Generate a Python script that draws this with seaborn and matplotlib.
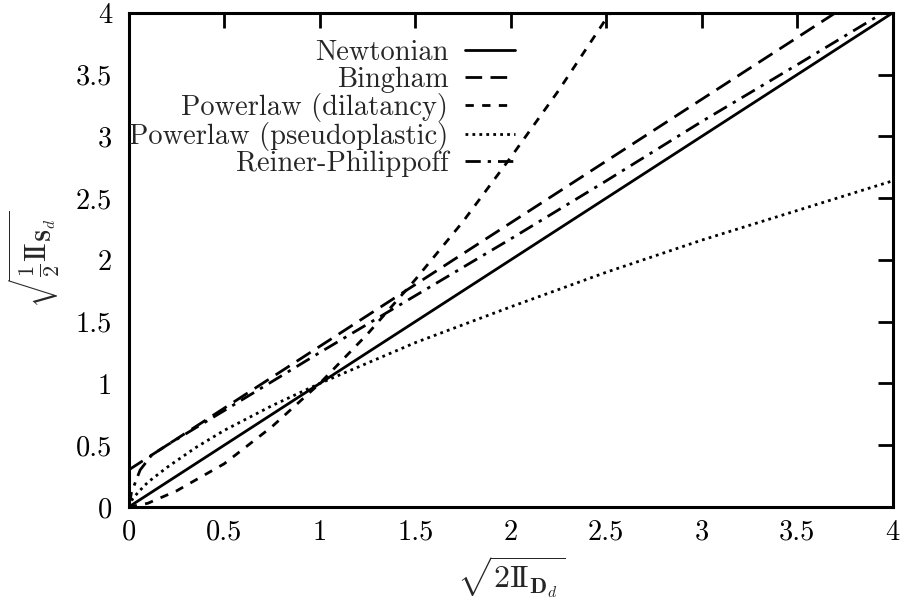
import matplotlib
matplotlib.use("Agg")
import matplotlib.pyplot as plt
import seaborn as sns

# Curvas (eje x: sqrt(2 II_Dd), eje y: sqrt(1/2 II_Sd))
newt_x = [0.0, 4.0]
newt_y = [0.0, 4.0]

bing_x = [0.0, 3.7]
bing_y = [0.3, 4.0]

dil_x = [0.0, 0.1, 0.25, 0.5, 0.75, 1.0, 1.25, 1.5, 1.75, 2.0, 2.25, 2.52]
dil_y = [0.0, 0.03, 0.13, 0.35, 0.65, 1.0, 1.40, 1.84, 2.31, 2.83, 3.37, 4.0]

pseudo_x = [0.0, 0.02, 0.05, 0.1, 0.2, 0.35, 0.5, 0.75, 1.0, 1.5, 2.0, 2.5, 3.0, 3.5, 4.0]
pseudo_y = [0.0, 0.065, 0.12, 0.2, 0.32, 0.48, 0.62, 0.82, 1.0, 1.33, 1.62, 1.90, 2.16, 2.40, 2.64]

rp_x = [0.0, 0.015, 0.06, 0.12, 0.2, 0.5, 1.0, 1.5, 2.0, 2.5, 3.0, 3.5, 3.95]
rp_y = [0.0, 0.12, 0.30, 0.42, 0.50, 0.78, 1.25, 1.71, 2.17, 2.64, 3.12, 3.58, 4.0]

tick_vals = [0, 0.5, 1, 1.5, 2, 2.5, 3, 3.5, 4]
tick_labels = ["0", "0.5", "1", "1.5", "2", "2.5", "3", "3.5", "4"]

sns.set_style("white")
plt.rcParams["font.family"] = ["cmr10", "DejaVu Serif"]
plt.rcParams["mathtext.fontset"] = "cm"
plt.rcParams["axes.formatter.use_mathtext"] = True

fig, ax = plt.subplots(figsize=(9, 6.09), dpi=100)
fig.subplots_adjust(left=0.143, right=0.992, top=0.979, bottom=0.1675)

lw = 2.0
sns.lineplot(x=newt_x, y=newt_y, ax=ax, color="black", lw=lw, label="Newtonian",
             linestyle="-")
sns.lineplot(x=bing_x, y=bing_y, ax=ax, color="black", lw=lw, label="Bingham",
             linestyle=(0, (6, 3)))
sns.lineplot(x=dil_x, y=dil_y, ax=ax, color="black", lw=lw, label="Powerlaw (dilatancy)",
             linestyle=(0, (3, 3)))
sns.lineplot(x=pseudo_x, y=pseudo_y, ax=ax, color="black", lw=lw,
             label="Powerlaw (pseudoplastic)", linestyle=(0, (1, 1.5)))
sns.lineplot(x=rp_x, y=rp_y, ax=ax, color="black", lw=lw, label="Reiner-Philippoff",
             linestyle=(0, (5.5, 2.5, 1.2, 2.5)))

ax.set_xlim(0, 4)
ax.set_ylim(0, 4)
ax.set_xticks(tick_vals)
ax.set_xticklabels(tick_labels)
ax.set_yticks(tick_vals)
ax.set_yticklabels(tick_labels)
ax.tick_params(direction="in", length=11, width=2, top=True, right=True,
               labelsize=20.5, colors="black")
ax.tick_params(axis="x", pad=9)
ax.tick_params(axis="y", pad=12)
for s in ax.spines.values():
    s.set_linewidth(2.2)
    s.set_color("black")

ax.set_xlabel(r"$\sqrt{2\mathrm{I\!I}_{\mathbf{D}_d}}$", fontsize=23, labelpad=6)
ax.set_ylabel(r"$\sqrt{\frac{1}{2}\mathrm{I\!I}_{\mathbf{S}_d}}$", fontsize=23, labelpad=10)

ax.legend(loc="upper right", bbox_to_anchor=(0.532, 0.985), frameon=False,
          markerfirst=False, fontsize=20.5, handlelength=1.75, handletextpad=0.6,
          labelspacing=0.0, borderpad=0.2)

plt.savefig("out.png", dpi=100)
plt.close()
